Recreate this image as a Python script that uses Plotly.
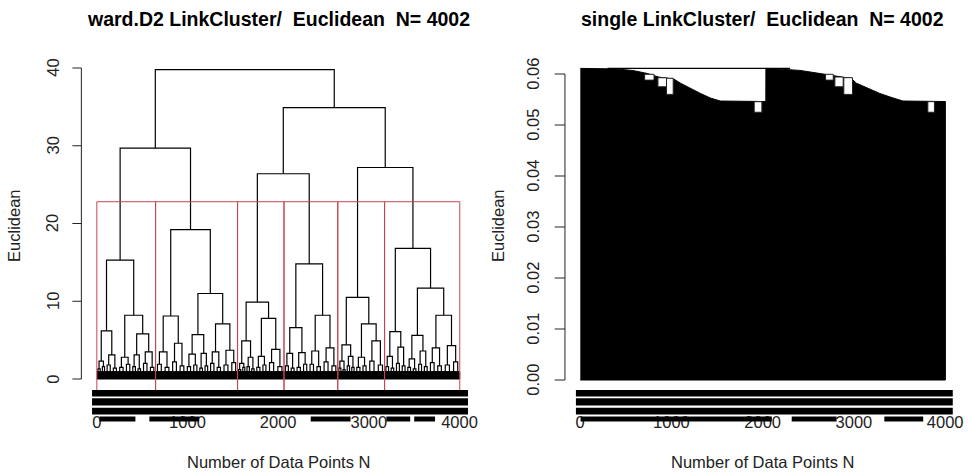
import plotly.graph_objects as go

N_POINTS = 4002

# ---------------- data ----------------
# ward.D2 tree: internal node = [height, left, right];
# terminal group = (height, n_points, left_sub_height, right_sub_height)
ward_tree = [39.8,
    [29.7,
        [15.3, [6.2, (2.3, 97, 1.3, 1.6), (3.1, 136, 1.8, 1.4)],
               [8.2, (2.8, 149, 1.5, 1.9), [5.8, (3.1, 114, 1.6, 1.3), (3.5, 152, 2.0, 1.5)]]],
        [19.2, [8.1, (3.5, 167, 1.9, 1.5), (4.6, 165, 2.2, 1.7)],
               [11.0, [5.7, (3.2, 141, 1.6, 1.8), (3.3, 115, 1.4, 1.7)],
                      [7.1, (3.5, 145, 2.0, 1.5), (3.7, 171, 1.8, 2.1)]]]],
    [34.9,
        [26.4,
            [9.9, [4.9, (2.0, 91, 1.2, 1.5), (2.8, 104, 1.6, 1.3)],
                  [7.8, (2.9, 134, 1.5, 1.8), (3.8, 183, 2.1, 1.6)]],
            [14.8, [6.6, (3.3, 126, 1.7, 1.4), (3.4, 142, 1.5, 1.9)],
                   [8.2, (3.6, 152, 1.9, 1.6), (4.0, 173, 2.2, 1.7)]]],
        [27.2,
            [10.5, [4.4, (2.3, 91, 1.4, 1.2), (2.9, 101, 1.7, 1.5)],
                   [7.1, (2.8, 137, 1.5, 1.7), (4.9, 187, 2.3, 1.8)]],
            [16.8, [6.1, (2.9, 115, 1.6, 1.4), (4.1, 126, 2.0, 1.7)],
                   [11.7, [5.6, (2.6, 119, 1.5, 1.3), (3.6, 125, 1.9, 1.6)],
                          [8.2, (4.0, 161, 2.1, 1.7), (4.3, 183, 1.8, 2.2)]]]]]]
ward_k = 6
ward_dense_h = 0.95          # dense merges near zero (solid black)
ward_usr_bottom = -1.5

# single linkage: merge-height profile along leaf order
single_left_idx = [1, 408, 590, 735, 860, 1027, 1099, 1172, 1245, 1317, 1426, 1535, 2034]
single_left_h = [0.0611, 0.0610, 0.06065, 0.0601, 0.0594, 0.0590, 0.0582, 0.0575, 0.0568,
                 0.0562, 0.0553, 0.0547, 0.0546]
single_right_idx = [2035, 2156, 2409, 2627, 2773, 2973, 3027, 3137, 3282, 3428, 3537, 4002]
single_right_h = [0.0611, 0.0610, 0.0607, 0.0601, 0.0597, 0.0591, 0.0582, 0.0573, 0.0562,
                  0.0553, 0.0547, 0.0546]
single_root_h = 0.0611
single_root_from = 300
single_root_to = 2300
notch_from = [706, 852, 946, 1907, 2689, 2791, 2889, 3810]
notch_to = [809, 946, 1019, 1991, 2773, 2882, 2984, 3882]
notch_low = [0.0588, 0.0575, 0.0560, 0.0525, 0.0588, 0.0575, 0.0560, 0.0525]
notch_high = [0.05994, 0.05927, 0.05916, 0.05457, 0.05994, 0.05941, 0.05928, 0.05458]

ward_yticks = [0, 10, 20, 30, 40]
single_yticks = [0.00, 0.01, 0.02, 0.03, 0.04, 0.05, 0.06]
single_ytick_text = ["0.00", "0.01", "0.02", "0.03", "0.04", "0.05", "0.06"]
xticks = [0, 1000, 2000, 3000, 4000]

# leaf-label glyph blobs (4th digit row only partially present)
ward_row4_from = [31, 580, 2359, 3193, 3500]
ward_row4_to = [426, 1129, 2798, 3456, 3730]
single_row4_from = [4, 2318, 3333]
single_row4_to = [2100, 2810, 3759]

TITLE_L = "ward.D2 LinkCluster/\u00a0\u00a0Euclidean\u00a0\u00a0N= 4002"
TITLE_R = "single LinkCluster/\u00a0\u00a0Euclidean\u00a0\u00a0N= 4002"

# ---------------- helpers ----------------
W, H = 969, 473
FONT = "Liberation Sans, Arial, sans-serif"


def py(px):
    return 1 - px / H


def expand(node):
    if isinstance(node, tuple):
        h, n, hl, hr = node
        q = [n // 4 + (1 if i < n % 4 else 0) for i in range(4)]
        return [h, [hl, q[0], q[1]], [hr, q[2], q[3]]]
    if isinstance(node, list):
        return [node[0], expand(node[1]), expand(node[2])]
    return node


def count(node):
    if isinstance(node, int):
        return node
    return count(node[1]) + count(node[2])


def layout_tree(node, start, xs, ys):
    if isinstance(node, int):
        return start + (node - 1) / 2, 0.0, start + node
    h, l, r = node
    xl, hl, s = layout_tree(l, start, xs, ys)
    xr, hr, e = layout_tree(r, s, xs, ys)
    xs += [xl, xl, xr, xr, None]
    ys += [hl, h, h, hr, None]
    return (xl + xr) / 2, h, e


def heights(node, out):
    if isinstance(node, list):
        out.append(node[0])
        heights(node[1], out)
        heights(node[2], out)
    return out


tree = expand(ward_tree)
tx, ty = [], []
layout_tree(tree, 1, tx, ty)

# cut into k clusters
groups = [tree]
while len(groups) < ward_k:
    i = max(range(len(groups)), key=lambda j: groups[j][0] if isinstance(groups[j], list) else -1)
    g = groups.pop(i)
    groups[i:i] = [g[1], g[2]]
hs = sorted(heights(tree, []), reverse=True)
cut_top = (hs[ward_k - 2] + hs[ward_k - 1]) / 2

fig = go.Figure()

# ---------- left: ward ----------
fig.add_trace(go.Scatter(x=[1, N_POINTS, N_POINTS, 1], y=[0, 0, ward_dense_h, ward_dense_h],
                         fill="toself", fillcolor="black", line=dict(color="black", width=1),
                         mode="lines", hoverinfo="skip", xaxis="x", yaxis="y"))
fig.add_trace(go.Scatter(x=tx, y=ty, mode="lines", line=dict(color="#000000", width=1.2),
                         hoverinfo="skip", xaxis="x", yaxis="y"))

shapes = []
start = 1
for g in groups:
    n = count(g)
    shapes.append(dict(type="rect", xref="x", yref="y", x0=start - 0.34, x1=start + n - 1 + 0.33,
                       y0=ward_usr_bottom, y1=cut_top, line=dict(color="#c94450", width=1),
                       fillcolor="rgba(0,0,0,0)", layer="above"))
    start += n

# ---------- right: single ----------
fig.add_trace(go.Scatter(x=single_left_idx + single_right_idx + [N_POINTS, 1],
                         y=single_left_h + single_right_h + [0, 0],
                         fill="toself", fillcolor="black", line=dict(color="black", width=1),
                         mode="lines", hoverinfo="skip", xaxis="x2", yaxis="y2"))
fig.add_trace(go.Scatter(x=[single_root_from, single_root_to], y=[single_root_h, single_root_h],
                         mode="lines", line=dict(color="#000000", width=1.2), hoverinfo="skip",
                         xaxis="x2", yaxis="y2"))
for a, b, lo, hi in zip(notch_from, notch_to, notch_low, notch_high):
    shapes.append(dict(type="rect", xref="x2", yref="y2", x0=a, x1=b, y0=lo, y1=hi,
                       fillcolor="white", line=dict(color="#222222", width=1)))

# ---------- leaf label glyph rows ----------
rows_px = [(390.0, 396.5), (398.3, 405.5), (407.7, 414.5)]
row4_px = (416.5, 421.5)
for xr, lo, hi in (("x", -52, 4093), ("x2", -47, 4083)):
    for t, b in rows_px:
        shapes.append(dict(type="rect", xref=xr, yref="paper", x0=lo, x1=hi, y0=py(b), y1=py(t),
                           fillcolor="black", line=dict(width=0), layer="above"))
for xr, fr, to in (("x", ward_row4_from, ward_row4_to), ("x2", single_row4_from, single_row4_to)):
    for a, b in zip(fr, to):
        shapes.append(dict(type="rect", xref=xr, yref="paper", x0=a, x1=b, y0=py(row4_px[1]),
                           y1=py(row4_px[0]), fillcolor="black", line=dict(width=0), layer="above"))

# ---------- y axes (R style) ----------
annotations = []
for ticks, yref, texts, axx, tickx, labx in (
        (ward_yticks, "y", [str(t) for t in ward_yticks], 81.7, 72.7, 53),
        (single_yticks, "y2", single_ytick_text, 567.3, 557.0, 535)):
    shapes.append(dict(type="line", xref="paper", yref=yref, x0=axx / W, x1=axx / W,
                       y0=ticks[0], y1=ticks[-1], line=dict(color="#222222", width=1)))
    for t, s in zip(ticks, texts):
        shapes.append(dict(type="line", xref="paper", yref=yref, x0=tickx / W, x1=axx / W,
                           y0=t, y1=t, line=dict(color="#222222", width=1)))
        annotations.append(dict(text=s, xref="paper", yref=yref, x=labx / W, y=t, textangle=-90,
                                showarrow=False, xanchor="center", yanchor="middle",
                                font=dict(family=FONT, size=16.5, color="#222222")))

for txt, cx in ((TITLE_L, 279.5), (TITLE_R, 766)):
    annotations.append(dict(text="<b>" + txt + "</b>", xref="paper", yref="paper", x=cx / W, y=py(18.5),
                            showarrow=False, xanchor="center", yanchor="middle",
                            font=dict(family=FONT, size=19.5, color="black")))
for cx in (279.5, 766):
    annotations.append(dict(text="Number of Data Points N", xref="paper", yref="paper", x=cx / W,
                            y=py(461.5), showarrow=False, xanchor="center", yanchor="middle",
                            font=dict(family=FONT, size=16.5, color="#222222")))
for cx in (14, 500):
    annotations.append(dict(text="Euclidean", xref="paper", yref="paper", x=cx / W, y=py(226),
                            textangle=-90, showarrow=False, xanchor="center", yanchor="middle",
                            font=dict(family=FONT, size=16.5, color="#222222")))

# ---------- axes geometry ----------
Y_TOP, Y_BOT = 40.0, 445.0
L0, LPX = 379.0, 7.775        # pixel of 0, pixels per unit (left)
R0, RPX = 380.0, 5100.0       # pixel of 0, pixels per unit (right)
R_LEAF1, R_LEAFN = 582.7, 949.3


def ridx(px):
    return 1 + (px - R_LEAF1) * (N_POINTS - 1) / (R_LEAFN - R_LEAF1)


common_x = dict(showgrid=False, zeroline=False, showline=False, ticks="", tickvals=xticks,
                ticktext=[str(t) for t in xticks], anchor="free", position=py(410),
                tickfont=dict(family=FONT, size=16.5, color="#222222"))
common_y = dict(showgrid=False, zeroline=False, showline=False, showticklabels=False, ticks="")

fig.update_layout(
    width=W, height=H, margin=dict(l=0, r=0, t=0, b=0),
    paper_bgcolor="white", plot_bgcolor="white", showlegend=False,
    xaxis=dict(domain=[82.7 / W, 476.2 / W], range=[-159, 4162], **common_x),
    yaxis=dict(domain=[py(Y_BOT), py(Y_TOP)],
               range=[(L0 - Y_BOT) / LPX, (L0 - Y_TOP) / LPX], **common_y),
    xaxis2=dict(domain=[560 / W, 1.0], range=[ridx(560), ridx(969)], **common_x),
    yaxis2=dict(domain=[py(Y_BOT), py(Y_TOP)],
                range=[(R0 - Y_BOT) / RPX, (R0 - Y_TOP) / RPX], anchor="x2", **common_y),
    shapes=shapes, annotations=annotations,
)

fig.write_html("out.html",
               config={"displayModeBar": False, "staticPlot": True},
               post_script="document.body.style.margin='0';"
                           "document.documentElement.style.overflow='hidden';")
